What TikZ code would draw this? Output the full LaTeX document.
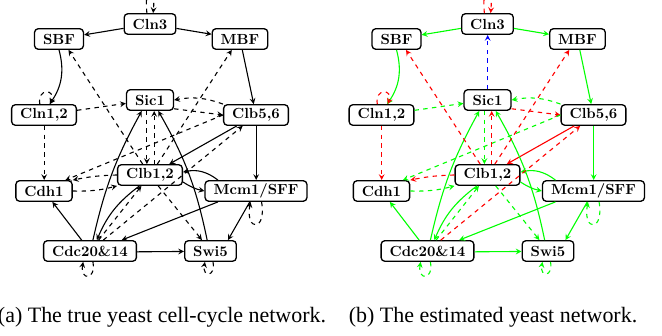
\documentclass[tikz,border=0pt]{standalone}
\usepackage{fontspec}
\newfontfamily\capfont{Liberation Serif}

\begin{document}
\begin{tikzpicture}[x=0.024cm, y=-0.024cm, >=stealth,
  gene/.style={draw, line width=0.9pt, rounded corners=2.5pt, font=\bfseries, inner xsep=5.8pt, inner ysep=0pt, minimum height=14pt},
  act/.style={->, line width=0.75pt},
  inh/.style={->, line width=0.75pt, dashed},
  selfloop/.style={->, line width=0.75pt, dashed},
  caption/.style={font=\capfont\fontsize{15}{18}\selectfont}]
 \useasboundingbox (0,0) rectangle (662,336);

 \foreach \p/\sx/\cg/\cr in {a/0/black/black, b/337.5/green/red}{
 \begin{scope}[shift={(\sx,0)}]
 %Genes
 \node[gene] (\p-Cln3) at (150,24) {Cln3};
 \node[gene] (\p-SBF) at (59,39) {SBF};
 \node[gene] (\p-MBF) at (240,39) {MBF};
 \node[gene] (\p-Cln12) at (44,115) {Cln1,2};
 \node[gene] (\p-Sic1) at (150,100) {Sic1};
 \node[gene] (\p-Clb56) at (256,115) {Clb5,6};
 \node[gene] (\p-Cdh1) at (44,191) {Cdh1};
 \node[gene] (\p-Clb12) at (150,175) {Clb1,2};
 \node[gene] (\p-Mcm1) at (256,191) {Mcm1/SFF};
 \node[gene] (\p-Cdc20) at (90,251) {Cdc20\&14};
 \node[gene] (\p-Swi5) at (210.5,251) {Swi5};

 %Activation
 \draw[act,color=\cg] (\p-Cln3) -- (\p-SBF);
 \draw[act,color=\cg] (\p-Cln3) -- (\p-MBF);
 \draw[act,color=\cg] (\p-SBF.south) to[bend left=25] (\p-Cln12.63);
 \draw[act,color=\cg] (\p-MBF) -- (\p-Clb56);
 \draw[act,color=\cr] (\p-Clb56) -- (\p-Clb12);
 \draw[act,color=\cg] (\p-Clb56.-89) -- (\p-Mcm1.89);
 \draw[act,color=\cg] (\p-Clb12.-12) to[bend right=10] (\p-Mcm1.west);
 \draw[act,color=\cg] (\p-Mcm1.164) to[bend right=25] (\p-Clb12.5);
 \draw[act,color=\cg] (\p-Clb12.-134) to[bend right=15] (\p-Cdc20.58);
 \draw[act,color=\cg] (\p-Mcm1.-164) -- (\p-Cdc20.19);
 \draw[act,color=\cg] (\p-Mcm1) -- (\p-Swi5.32);
 \draw[act,color=\cg] (\p-Cdc20.-1) -- (\p-Swi5.181);
 \draw[act,color=\cg] (\p-Cdc20) -- (\p-Cdh1);
 \draw[act,color=\cg] (\p-Cdc20.75) to[bend left=8] (\p-Sic1.-127);
 \draw[act,color=\cg] (\p-Swi5.107) to[bend right=9] (\p-Sic1.-53);

 %Inhibition
 \draw[inh,color=\cg] (\p-Cln12) -- (\p-Sic1);
 \draw[inh,color=\cr] (\p-Cln12.-89) -- (\p-Cdh1.89);
 \draw[inh,color=\cr] (\p-Sic1.-20) -- (\p-Clb56.west);
 \draw[inh,color=\cg] (\p-Clb56.north west) to[bend right=15] (\p-Sic1.east);
 \draw[inh,color=\cg] (\p-Clb56.west) -- (\p-Cdh1.27);
 \draw[inh,color=\cg] (\p-Sic1.-106) -- (\p-Clb12.106);
 \draw[inh,color=\cr] (\p-Clb12.69) -- (\p-Sic1.-69);
 \draw[inh,color=\cr] (\p-Clb12.124) -- (\p-SBF.-49);
 \draw[inh,color=\cr] (\p-Clb12.56) -- (\p-MBF.-127);
 \draw[inh,color=\cr] (\p-Clb12.west) to[bend right=5] (\p-Cdh1.north east);
 \draw[inh,color=\cg] (\p-Cdh1.east) to[bend right=8] (\p-Clb12.south west);
 \draw[inh,color=\cg] (\p-Clb12.-53) -- (\p-Swi5.128);
 \draw[inh,color=\cr] (\p-Cdc20) -- (\p-Clb56);
 \draw[inh,color=\cg] (\p-Cdc20) -- (\p-Clb12);

 %Self loops
 \draw[selfloop,color=\cr] (\p-Cln3.106) to[out=95,in=85,looseness=14] (\p-Cln3.74);
 \draw[selfloop,color=\cr] (\p-Cln12.111) to[out=100,in=70,looseness=4] (\p-Cln12.60);
 \draw[selfloop,color=\cg] (\p-Mcm1.-63) to[out=-80,in=-100,looseness=7] (\p-Mcm1.-117);
 \draw[selfloop,color=\cg] (\p-Cdc20.-75) to[out=-80,in=-100,looseness=5] (\p-Cdc20.-122);
 \draw[selfloop,color=\cg] (\p-Swi5.-77) to[out=-80,in=-100,looseness=5] (\p-Swi5.-117);
 \end{scope}
 }

 %Extra estimated edge
 \draw[inh,color=blue] (b-Sic1.89) -- (b-Cln3.-89);

 %Captions
 \node[caption] (capA) at (162,317) {(a) The true yeast cell-cycle network.};
 \node[caption] (capB) at (493,317) {(b) The estimated yeast network.};
\end{tikzpicture}
\end{document}
